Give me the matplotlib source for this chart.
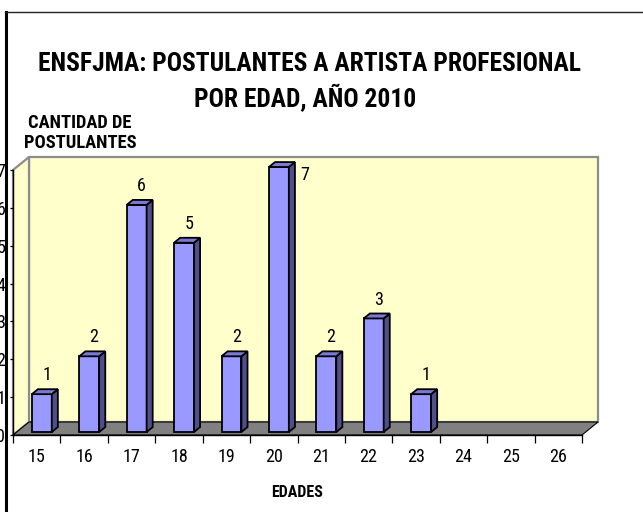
import matplotlib
matplotlib.use('Agg')
import matplotlib.pyplot as plt
from matplotlib.patches import Polygon
from matplotlib.lines import Line2D

plt.rcParams['font.family'] = ['Roboto Condensed', 'PT Sans Narrow', 'Liberation Sans', 'DejaVu Sans']

# datos
edades = ['15', '16', '17', '18', '19', '20', '21', '22', '23', '24', '25', '26']
postulantes = [1, 2, 6, 5, 2, 7, 2, 3, 1, 0, 0, 0]
y_ticks = [0, 1, 2, 3, 4, 5, 6, 7]

W, H = 643, 512
fig = plt.figure(figsize=(W / 100, H / 100), dpi=100)

# ejes frontales (pixeles: x 13..582, y 435..170)
ax = fig.add_axes([13 / W, (H - 435) / H, 569 / W, 265 / H])
n = len(edades)
ymax = 7
ax.set_xlim(0, n)
ax.set_ylim(0, ymax)
ax.patch.set_visible(False)

# profundidad 3D en unidades de datos
px_x = 569 / n
px_y = 265 / ymax
dx = 16 / px_x
dy = 13 / px_y

wall = '#FFFFCC'
edge_gray = '#8C8C8C'

# pared del fondo
ax.add_patch(Polygon([(dx, dy), (n + dx, dy), (n + dx, ymax + dy), (dx, ymax + dy)],
                     closed=True, facecolor=wall, edgecolor=edge_gray, lw=1.6,
                     clip_on=False, zorder=1))
# pared izquierda
ax.add_patch(Polygon([(0, 0), (dx, dy), (dx, ymax + dy), (0, ymax)],
                     closed=True, facecolor=wall, edgecolor=edge_gray, lw=1.6,
                     clip_on=False, zorder=1))
# piso
ax.add_patch(Polygon([(0, 0), (n, 0), (n + dx, dy), (dx, dy)],
                     closed=True, facecolor='#808080', edgecolor='black', lw=0.8,
                     clip_on=False, zorder=2))

# barras
f0, f1 = 0.23, 0.61
bw = 0.42
b0 = 0.32
for i, v in enumerate(postulantes):
    if v <= 0:
        continue
    x0 = i + b0 + f0 * dx
    y0 = f0 * dy
    x1 = x0 + bw
    sx = (f1 - f0) * dx
    sy = (f1 - f0) * dy
    front = [(x0, y0), (x1, y0), (x1, y0 + v), (x0, y0 + v)]
    side = [(x1, y0), (x1 + sx, y0 + sy), (x1 + sx, y0 + v + sy), (x1, y0 + v)]
    top = [(x0, y0 + v), (x1, y0 + v), (x1 + sx, y0 + v + sy), (x0 + sx, y0 + v + sy)]
    for pts, col in [(front, '#9999FF'), (side, '#4F4F8C'), (top, '#7A7AD6')]:
        ax.add_patch(Polygon(pts, closed=True, facecolor=col, edgecolor='black',
                             lw=1.3, joinstyle='miter', clip_on=False, zorder=3 + i * 0.01))
    # etiqueta: encima, o a la derecha si no cabe
    if v + 0.5 > ymax:
        ax.text(x1 + sx + 0.2, y0 + v - 0.2, str(v), ha='center', va='center',
                fontsize=13, zorder=5)
    else:
        ax.text(x0 + bw / 2 + 0.1, y0 + v + 0.5, str(v), ha='center', va='center',
                fontsize=13, zorder=5)

# ejes
for s in ['top', 'right']:
    ax.spines[s].set_visible(False)
ax.spines['left'].set_linewidth(1.0)
ax.spines['bottom'].set_linewidth(1.0)
ax.spines['left'].set_zorder(4)
ax.spines['bottom'].set_zorder(4)

ax.set_xticks(range(n + 1))
ax.set_xticklabels([])
ax.set_xticks([i + 0.5 for i in range(n)], minor=True)
ax.set_xticklabels(edades, minor=True, fontsize=13)
ax.tick_params(axis='x', which='major', length=5.5, width=0.9, direction='out')
ax.tick_params(axis='x', which='minor', length=0, pad=9)

ax.set_yticks(y_ticks)
ax.set_yticklabels([str(t) for t in y_ticks], fontsize=13)
ax.tick_params(axis='y', length=2, width=0.9, pad=3.5)

ax.set_xlabel('EDADES', fontsize=11.5, fontweight='bold', labelpad=14)

# titulos
fig.text(309 / W, 1 - 64 / H, 'ENSFJMA: POSTULANTES A ARTISTA PROFESIONAL',
         ha='center', va='center', fontsize=18.4, fontweight='bold')
fig.text(305 / W, 1 - 97 / H, 'POR EDAD, AÑO 2010',
         ha='center', va='center', fontsize=18.4, fontweight='bold')
fig.text(80 / W, 1 - 133 / H, 'CANTIDAD DE\nPOSTULANTES', ha='center', va='center',
         fontsize=13.3, fontweight='bold', linespacing=1.15)

# marco
fig.add_artist(Line2D([6 / W, 6 / W], [0, 1 - 12 / H], color='black', lw=2.2))
fig.add_artist(Line2D([5 / W, 1], [1 - 12 / H, 1 - 12 / H], color='#222222', lw=1.0))

fig.savefig('out.png', dpi=100)
